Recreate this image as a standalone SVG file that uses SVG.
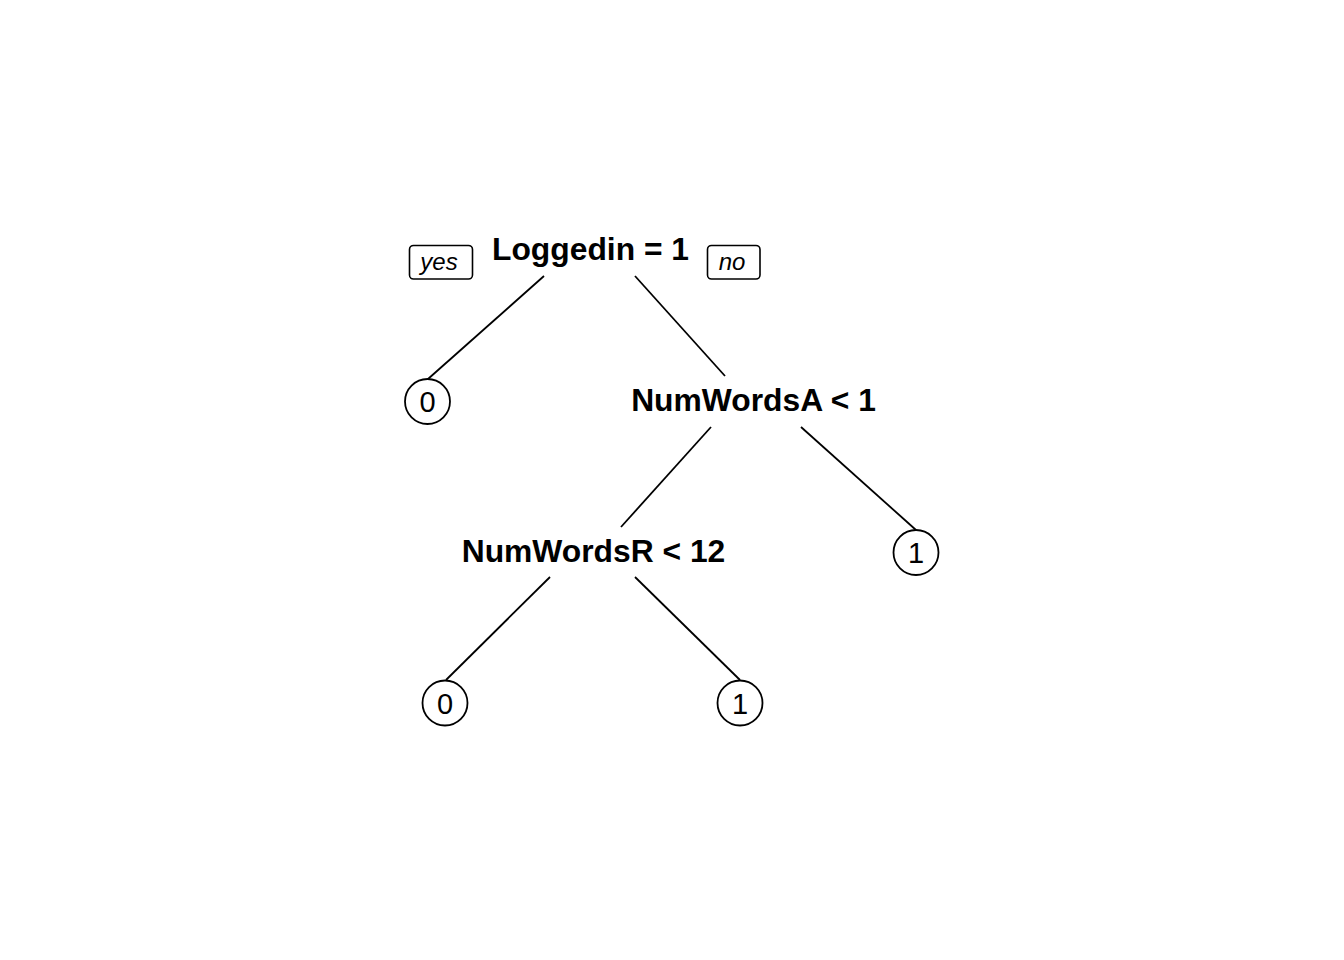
<svg xmlns="http://www.w3.org/2000/svg" width="1344" height="960" viewBox="0 0 1344 960">
<style>
.split{font-family:"Liberation Sans",Arial,sans-serif;font-weight:bold;font-size:31.8px;fill:#000;text-anchor:middle}
.leaf{font-family:"Liberation Sans",Arial,sans-serif;font-size:29px;fill:#000;text-anchor:middle}
.lab{font-family:"Liberation Sans",Arial,sans-serif;font-style:italic;font-size:24px;fill:#000;text-anchor:middle}
.circ{fill:#fff;stroke:#000;stroke-width:1.8}
.box{fill:#fff;stroke:#000;stroke-width:1.6}
.edge{stroke:#000;stroke-width:1.8;fill:none}
</style>
<rect width="1344" height="960" fill="#fff"/>
<g id="connectors">
<line class="edge" x1="544" y1="276" x2="428" y2="379"/>
<line class="edge" x1="635" y1="276" x2="725" y2="376"/>
<line class="edge" x1="711" y1="427" x2="621" y2="527"/>
<line class="edge" x1="801" y1="427" x2="916" y2="530"/>
<line class="edge" x1="550" y1="577" x2="446" y2="680"/>
<line class="edge" x1="635" y1="577" x2="740" y2="680"/>
</g>
<g id="yes-label">
<rect class="box" x="409.5" y="245.5" width="63" height="33.5" rx="4"/>
<text class="lab" x="439" y="270">yes</text>
</g>
<g id="no-label">
<rect class="box" x="707.5" y="245.5" width="52.5" height="33.5" rx="4"/>
<text class="lab" x="732" y="270">no</text>
</g>
<g id="node-root">
<text class="split" x="590.5" y="260">Loggedin = 1</text>
</g>
<g id="node-leaf0a">
<circle class="circ" cx="427.5" cy="401.5" r="22.5"/>
<text class="leaf" x="427.5" y="412">0</text>
</g>
<g id="node-numwordsA">
<text class="split" x="753.5" y="411">NumWordsA &lt; 1</text>
</g>
<g id="node-leaf1a">
<circle class="circ" cx="916" cy="552.5" r="22.5"/>
<text class="leaf" x="916" y="563">1</text>
</g>
<g id="node-numwordsR">
<text class="split" x="593.5" y="562">NumWordsR &lt; 12</text>
</g>
<g id="node-leaf0b">
<circle class="circ" cx="445" cy="703" r="22.5"/>
<text class="leaf" x="445" y="713.5">0</text>
</g>
<g id="node-leaf1b">
<circle class="circ" cx="740" cy="703" r="22.5"/>
<text class="leaf" x="740" y="713.5">1</text>
</g>
</svg>
